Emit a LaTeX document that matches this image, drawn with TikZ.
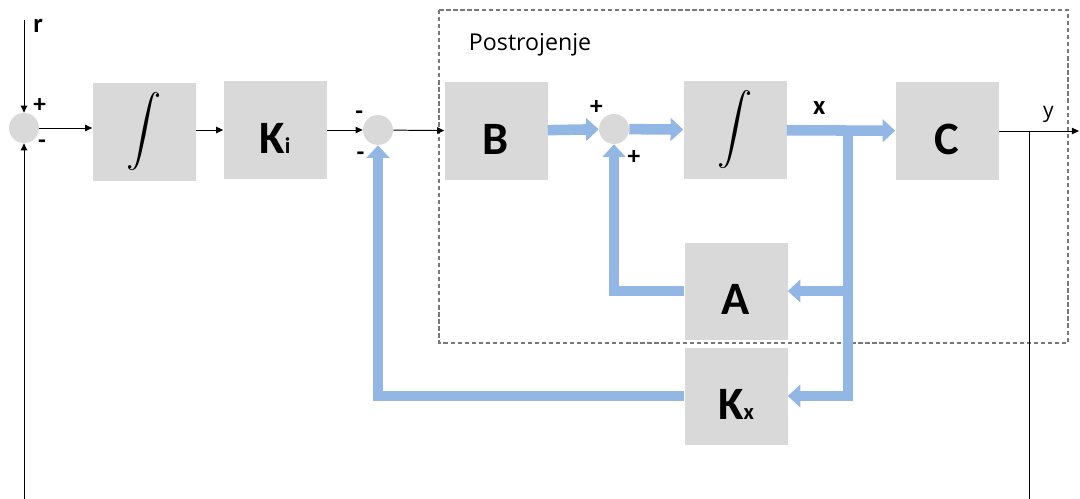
\documentclass[tikz,border=0pt]{standalone}
\usepackage{fontspec}
\setmainfont{Carlito}
\newfontfamily\plantfont{Open Sans}
\usetikzlibrary{arrows.meta,positioning}
\newlength{\pix}
\setlength{\pix}{0.025cm}
\definecolor{boxgray}{RGB}{217,217,217}
\definecolor{flowblue}{RGB}{146,183,228}
\definecolor{plantgray}{RGB}{120,120,120}
\begin{document}
\begin{tikzpicture}[x=0.025cm,y=-0.025cm,
  blk/.style={fill=boxgray, minimum width=103\pix, minimum height=97\pix, inner sep=0pt},
  lbl/.style={font=\bfseries\fontsize{33}{33}\selectfont, text height=33pt, text depth=0pt},
  sum/.style={circle, fill=boxgray, minimum size=30\pix, inner sep=0pt},
  sg/.style={font=\bfseries\fontsize{18}{18}\selectfont, inner sep=0pt, label distance=2pt},
  sgl/.style={sg, label distance=7pt},
  thin/.style={line width=0.7pt, -{Triangle[length=5pt,width=4.5pt]}},
  flow/.style={draw=flowblue, line width=7.5pt, -{Triangle[length=9pt,width=16pt]}},
  plant/.style={draw=plantgray, line width=0.8pt, dash pattern=on 3pt off 2pt}]
  \useasboundingbox (0,0) rectangle (1080,499);
  \draw[plant] (439,10) rectangle (1068,343);
  \node[anchor=west, font=\plantfont\fontsize{16.5}{16.5}\selectfont] (20) at (464,45) {Postrojenje};
  \node[sum, label={[sg]60:+}, label={[sg]-40:-}] (0) at (24,128) {};
  \node[blk] (1) at (144,132) {\scalebox{2.5}{$\displaystyle\int$}};
  \node[blk, lbl] (2) at (275,130) {K{\fontsize{16}{16}\selectfont i}};
  \node[sum, label={[sg]144:-}, label={[sgl]238:-}] (3) at (378,130) {};
  \node[blk, lbl] (4) at (496,131) {B};
  \node[sum, label={[sg]127:+}, label={[sgl]-58:+}] (5) at (614,129) {};
  \node[blk] (6) at (735,130) {\scalebox{2.5}{$\displaystyle\int$}};
  \node[blk, lbl] (7) at (947,131) {C};
  \node[blk, lbl] (8) at (736,291) {A};
  \node[blk, lbl] (9) at (736,396) {K{\fontsize{16}{16}\selectfont x}};
  \coordinate (10) at (24,20);
  \coordinate (11) at (24,499);
  \coordinate (12) at (1079,131);
  \coordinate (13) at (1029,131);
  \coordinate (14) at (1029,499);
  \coordinate (15) at (848,131);
  \node[font=\bfseries\fontsize{19}{19}\selectfont] (16) at (38,26) {r};
  \draw[thin] (10) -- (0);
  \draw[thin] (11) -- (0);
  \draw[thin] (0) -- (0 -| 1.west);
  \draw[thin] (1.east |- 2) -- (2);
  \draw[thin] (2) -- (3);
  \draw[thin] (3) -- (4);
  \draw[thin] (7) -- (12) node[pos=0.62, above=2pt, font=\plantfont\fontsize{15}{15}\selectfont] {y};
  \draw[line width=0.7pt] (13) -- (14);
  \draw[flow] (4) -- (5);
  \draw[flow] (5) -- (6);
  \draw[flow] (15) |- (9.east);
  \draw[flow] (15) |- (8.east);
  \draw[flow] (6) -- (7) node[pos=0.3, above=4pt, font=\bfseries\fontsize{19}{19}\selectfont, text=black] {x};
  \draw[flow] (8.west) -| (5);
  \draw[flow] (9.west) -| (3);
\end{tikzpicture}
\end{document}
